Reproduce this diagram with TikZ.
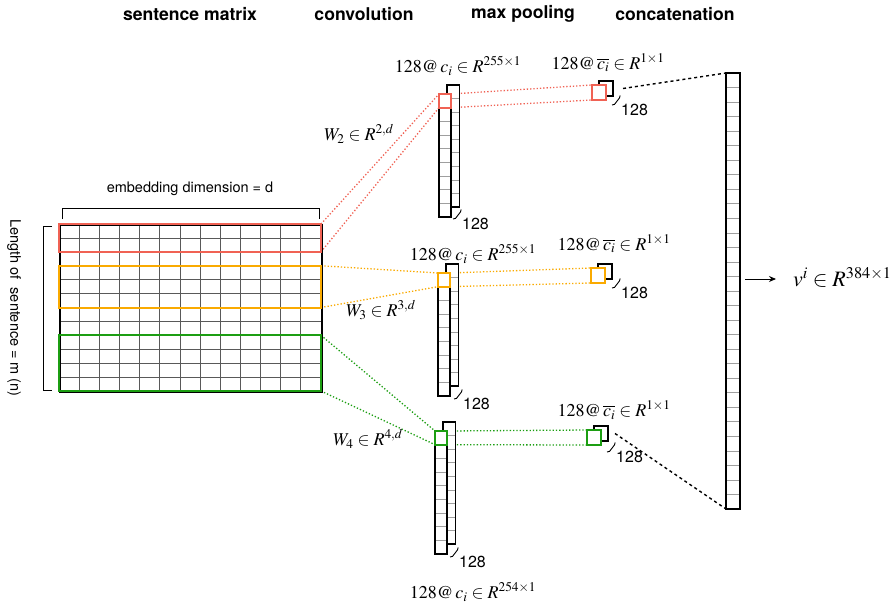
\documentclass[tikz,border=0pt]{standalone}
\usepackage{mathptmx}
\usepackage{fontspec}
\setmainfont{Liberation Serif}
\setsansfont{TeX Gyre Heros}
\usetikzlibrary{arrows.meta,calc}

\definecolor{kred}{RGB}{240,98,84}
\definecolor{korange}{RGB}{250,170,0}
\definecolor{kgreen}{RGB}{28,158,18}

\pgfdeclarelayer{bg}
\pgfsetlayers{bg,main}

% feature map column (rear + front) with the top cell picked out in colour
% #1 name, #2 front left x, #3 front top y, #4 colour
\newcommand\fmapcol[4]{%
  \node[mapbody, minimum width=12.5pt, minimum height=122pt] (#1b) at (#2+8,#3-9) {};
  \foreach \k in {1,...,8} \draw[grid] (#2+8,#3-9+\k*13.56) -- ++(12.5,0);
  \draw[frame] (#1b.north west) rectangle (#1b.south east);
  \node[mapbody, minimum width=12pt, minimum height=123pt] (#1f) at (#2,#3) {};
  \foreach \k in {1,...,8} \draw[grid] (#2,#3+\k*13.67) -- ++(12,0);
  \draw[frame] (#1f.north west) rectangle (#1f.south east);
  \node[cellbox, draw=#4, minimum width=12pt, minimum height=13.67pt] (#1c) at (#2,#3) {};
}

% pooled value pair: #1 name, #2 front left x, #3 front top y, #4 colour
\newcommand\poolsq[4]{%
  \node[mapbody, minimum width=14pt, minimum height=15pt] (#1b) at (#2+7,#3-4) {};
  \draw[frame] (#1b.north west) rectangle (#1b.south east);
  \node[mapbody, minimum width=14pt, minimum height=15pt] (#1f) at (#2,#3) {};
  \draw[frame] (#1f.north west) rectangle (#1f.south east);
  \draw[line width=2.2pt, draw=#4] ([shift={(0.3,0.3)}]#1f.north west) rectangle ([shift={(-0.3,-0.3)}]#1f.south east);
}

% small "x128" depth mark: #1 name, #2 x, #3 y
\newcommand\depthmark[3]{%
  \draw[line width=0.9pt] (#2,#3) -- ++(2.5,-0.6) -- ++(5,-6.5) -- ++(0.6,-2.4);
  \node[dlbl, anchor=west, inner sep=0] (#1) at (#2+9,#3+5) {128};
}

\begin{document}
\begin{tikzpicture}[x=1pt,y=-1pt,
  grid/.style={draw=gray!75,line width=0.6pt},
  mgrid/.style={draw=black!65,line width=0.8pt},
  frame/.style={draw=black,line width=1.6pt},
  hilite/.style={line width=2pt},
  mapbody/.style={fill=white,inner sep=0,outer sep=0,anchor=north west},
  cellbox/.style={hilite,inner sep=0,outer sep=0,anchor=north west},
  link/.style={dotted,line width=1.3pt},
  lbl/.style={font=\sffamily\fontsize{14.5}{16}\selectfont},
  dlbl/.style={font=\sffamily\fontsize{16}{18}\selectfont},
  head/.style={font=\sffamily\bfseries\fontsize{17.6}{20}\selectfont,inner sep=0},
  mlbl/.style={font=\fontsize{18}{20}\selectfont,inner sep=0}]

\useasboundingbox (0,0) rectangle (896,604);

% column headings
\node[head] (h1) at (190,14) {sentence matrix};
\node[head] (h2) at (364,14) {convolution};
\node[head] (h3) at (523,14) {max pooling};
\node[head] (h4) at (675,14) {concatenation};

% sentence matrix: 12 words x 13 embedding dims
\foreach \i in {1,...,12} \draw[mgrid] (59+\i*20.154,224) -- ++(0,167);
\foreach \j in {1,...,11} \draw[mgrid] (59,224+\j*13.917) -- ++(262,0);
\node[frame, inner sep=0, anchor=north west, minimum width=262pt, minimum height=167pt] (mat) at (59,224) {};

% filter windows
\node[cellbox, draw=kred, minimum width=262pt, minimum height=27.83pt] (rbox) at (59,224) {};
\node[cellbox, draw=korange, minimum width=262pt, minimum height=41.75pt] (obox) at (59,265.75) {};
\node[cellbox, draw=kgreen, minimum width=262pt, minimum height=55.67pt] (gbox) at (59,335.33) {};

% dimension brackets
\draw[line width=1pt] (62,219) -- (62,208) -- (319,208) -- (319,219);
\node[lbl] (embd) at (190,189) {embedding dimension = d};
\draw[line width=1pt] (52,226) -- (43,226) -- (43,390) -- (52,390);
\node[lbl, rotate=-90] (slen) at (14,308) {Length of\ \ sentence = m (n)};

% convolution outputs
\fmapcol{rc}{439}{94}{kred}
\fmapcol{oc}{438}{273}{korange}
\fmapcol{gc}{435}{431}{kgreen}
\depthmark{rcd}{453}{219}
\depthmark{ocd}{454}{399}
\depthmark{gcd}{450}{557}

% max pooling outputs
\poolsq{rp}{592}{85}{kred}
\poolsq{op}{591}{268}{korange}
\poolsq{gp}{587}{430}{kgreen}
\depthmark{rpd}{612}{105}
\depthmark{opd}{612}{288}
\depthmark{gpd}{607}{452}

% concatenated vector
\node[mapbody, minimum width=14pt, minimum height=436pt] (cat) at (726,73) {};
\foreach \k in {1,...,29} \draw[grid] (726,73+\k*14.533) -- ++(14,0);
\draw[frame] (cat.north west) rectangle (cat.south east);

% labels
\node[mlbl] (lrc) at (458,66) {$128@\,c_i\in R^{255\times 1}$};
\node[mlbl] (lrp) at (608,63) {$128@\,\overline{c_i}\in R^{1\times 1}$};
\node[mlbl] (loc) at (473,254) {$128@\,c_i\in R^{255\times 1}$};
\node[mlbl] (lop) at (614,244) {$128@\,\overline{c_i}\in R^{1\times 1}$};
\node[mlbl] (lgp) at (614,410) {$128@\,\overline{c_i}\in R^{1\times 1}$};
\node[mlbl] (lgc) at (473,592) {$128@\,c_i\in R^{254\times 1}$};
\node[mlbl] (w2) at (359,134) {$W_2\in R^{2,d}$};
\node[mlbl] (w3) at (381,310) {$W_3\in R^{3,d}$};
\node[mlbl] (w4) at (368,439) {$W_4\in R^{4,d}$};

% output
\coordinate (vout) at (745,279);
\node[font=\fontsize{22}{24}\selectfont, inner sep=0, anchor=west] (vlab) at (793,277) {$v^i\in R^{384\times 1}$};
\draw[-{Stealth[length=7pt,width=6pt]}, line width=1pt] (vout) -- (vout -| 776,0);

% connectors
\coordinate (rtail) at ([xshift=10pt]rpb.east);
\coordinate (gtail) at ([xshift=7pt]gpb.east);
\begin{pgfonlayer}{bg}
  \draw[link, kred] (rbox.north east) -- (rcc.north west);
  \draw[link, kred] (rbox.south east) -- (rcc.south west);
  \draw[link, kred] (rcc.north east) -- (rpf.north west);
  \draw[link, kred] (rcc.south east) -- (rpf.south west);
  \draw[link, korange] (obox.north east) -- (occ.north west);
  \draw[link, korange] (obox.south east) -- (occ.south west);
  \draw[link, korange] (occ.north east) -- (opf.north west);
  \draw[link, korange] (occ.south east) -- (opf.south west);
  \draw[link, kgreen] (gbox.north east) -- (gcc.north west);
  \draw[link, kgreen] (gbox.south east) -- (gcc.south west);
  \draw[link, kgreen] (gcc.north east) -- (gpf.north west);
  \draw[link, kgreen] (gcc.south east) -- (gpf.south west);
  \draw[dashed, line width=1.4pt] (rtail) -- (cat.north west);
  \draw[dashed, line width=1.4pt] (gtail) -- (cat.south west);
\end{pgfonlayer}
\end{tikzpicture}
\end{document}
